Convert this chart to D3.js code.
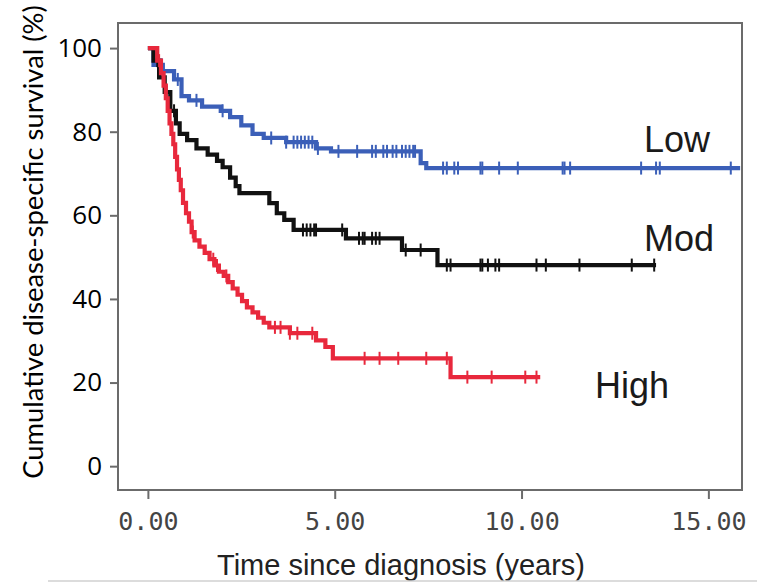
<!DOCTYPE html>
<html>
<head>
<meta charset="utf-8">
<script src="https://cdn.jsdelivr.net/npm/d3@7"></script>
<style>
  html, body { margin: 0; padding: 0; background: #fff; }
  svg { display: block; }
</style>
</head>
<body>
<svg id="chart" width="757" height="583"></svg>
<script>
// ---- Data ----
const groups = ["Low", "Mod", "High"];

const lowTimes = [0, 0.15, 0.4, 0.7, 0.9, 1.1, 1.45, 1.95, 2.2, 2.5, 2.8, 3.1, 3.7, 4.5, 4.9, 7.3, 7.45, 15.85];
const lowSurv  = [100, 96, 94.5, 92.5, 88.5, 87.5, 86, 85, 83.5, 81.5, 79.5, 78.5, 77.5, 76, 75.3, 72.5, 71.3, 71.3];
const lowCensor = [0.37, 0.8, 1.3, 2.0, 3.3, 3.7, 3.9, 4.0, 4.1, 4.2, 4.3, 4.4, 4.55, 5.1, 5.6, 6.0, 6.1, 6.3, 6.4, 6.55, 6.65, 6.8, 6.9, 7.0, 7.1, 7.15, 7.9, 8.0, 8.2, 8.3, 8.9, 8.95, 9.4, 9.9, 11.1, 11.15, 11.3, 13.2, 13.6, 13.7, 15.6];

const modTimes = [0, 0.15, 0.3, 0.45, 0.6, 0.75, 0.85, 1.05, 1.3, 1.6, 1.85, 2.0, 2.2, 2.35, 2.45, 3.25, 3.45, 3.65, 3.9, 5.3, 6.8, 7.75, 13.6];
const modSurv  = [100, 97, 93, 89.5, 85, 82, 79.5, 78, 76, 74.5, 73, 71.5, 69, 67, 65.3, 62.9, 60.5, 58.9, 56.5, 54.5, 51.7, 48.1, 48.1];
const modCensor = [0.25, 0.5, 0.7, 4.15, 4.25, 4.35, 4.45, 4.5, 5.2, 5.65, 5.75, 5.8, 6.0, 6.1, 6.2, 6.9, 7.3, 8.0, 8.1, 8.9, 8.95, 9.1, 9.3, 9.4, 10.4, 10.65, 11.55, 12.95, 13.55];

const highTimes = [0, 0.25, 0.35, 0.42, 0.48, 0.53, 0.58, 0.63, 0.68, 0.73, 0.78, 0.83, 0.88, 0.94, 1.02, 1.1, 1.17, 1.25, 1.38, 1.52, 1.65, 1.78, 1.9, 2.03, 2.15, 2.27, 2.4, 2.52, 2.65, 2.8, 2.95, 3.1, 3.25, 3.8, 4.5, 4.75, 4.95, 8.1, 10.5];
const highSurv  = [100, 97, 94, 91, 88, 85, 82, 79.5, 77, 74, 71, 68.5, 66, 63, 60.5, 58.5, 56, 54, 52.5, 51, 49.5, 48, 46.5, 45.5, 44, 42.5, 41, 39.5, 38, 36.8, 35.5, 34.3, 33.2, 31.8, 30.1, 28.5, 25.8, 21.3, 21.3];
const highCensor = [0.3, 1.2, 1.75, 1.85, 2.1, 3.4, 3.55, 3.8, 4.0, 4.4, 5.8, 6.2, 6.7, 7.45, 8.0, 8.55, 9.2, 10.1, 10.4];

const yTicks = [0, 20, 40, 60, 80, 100];
const xTicks = [0, 5, 10, 15];
const xTitle = "Time since diagnosis (years)";
const yTitle = "Cumulative disease-specific survival (%)";

// ---- Layout ----
const svg = d3.select("#chart");
const frame = { left: 118, right: 742, top: 23, bottom: 490 };

const x = d3.scaleLinear().domain([-0.8, 15.9]).range([frame.left, frame.right]);
const y = d3.scaleLinear().domain([-5.7, 106]).range([frame.bottom, frame.top]);

const series = [
  { name: groups[0], times: lowTimes,  surv: lowSurv,  censor: lowCensor,  color: "#3b5fb8", lx: 644, ly: 152 },
  { name: groups[1], times: modTimes,  surv: modSurv,  censor: modCensor,  color: "#111111", lx: 644, ly: 251 },
  { name: groups[2], times: highTimes, surv: highSurv, censor: highCensor, color: "#e8283c", lx: 595, ly: 398 }
];

// frame
svg.append("rect")
  .attr("x", frame.left).attr("y", frame.top)
  .attr("width", frame.right - frame.left).attr("height", frame.bottom - frame.top)
  .attr("fill", "none").attr("stroke", "#6b6b6b").attr("stroke-width", 2);

// y axis
const yAxis = svg.append("g")
  .attr("transform", `translate(${frame.left},0)`)
  .call(d3.axisLeft(y).tickValues(yTicks).tickSize(8).tickPadding(8).tickFormat(d3.format("d")));
yAxis.select(".domain").remove();
yAxis.selectAll(".tick line").attr("stroke", "#6b6b6b").attr("stroke-width", 2);
yAxis.selectAll(".tick text")
  .attr("font-family", "'Open Sans', sans-serif").attr("font-size", 26).attr("fill", "#000");

// x axis
const xAxis = svg.append("g")
  .attr("transform", `translate(0,${frame.bottom})`)
  .call(d3.axisBottom(x).tickValues(xTicks).tickSize(9).tickPadding(13).tickFormat(d3.format(".2f")));
xAxis.select(".domain").remove();
xAxis.selectAll(".tick line").attr("stroke", "#6b6b6b").attr("stroke-width", 2);
xAxis.selectAll(".tick text")
  .attr("font-family", "'DejaVu Sans Mono', monospace").attr("font-size", 25).attr("fill", "#444");

// axis titles
svg.append("text")
  .attr("x", 401).attr("y", 575)
  .attr("text-anchor", "middle")
  .attr("font-family", "'Liberation Sans', Arial, sans-serif").attr("font-size", 29).attr("fill", "#222")
  .text(xTitle);

const yt = svg.append("text")
  .attr("transform", "translate(43,242) rotate(-90)")
  .attr("text-anchor", "middle")
  .attr("font-family", "Lato, 'Open Sans', sans-serif").attr("font-size", 100).attr("fill", "#000")
  .text(yTitle);
const len = yt.node().getComputedTextLength();
yt.attr("font-size", 100 * 474 / len);

// bottom light rule
svg.append("line").attr("x1", 48).attr("x2", 757).attr("y1", 581).attr("y2", 581)
  .attr("stroke", "#d0d0d0").attr("stroke-width", 1.5);

// curves
const line = d3.line().x(d => x(d[0])).y(d => y(d[1])).curve(d3.curveStepAfter);
series.forEach(s => {
  const pts = s.times.map((t, i) => [t, s.surv[i]]);
  const g = svg.append("g");
  g.append("path").attr("d", line(pts))
    .attr("fill", "none").attr("stroke", s.color).attr("stroke-width", 4.2);
  const valAt = t => {
    let v = s.surv[0];
    for (let i = 0; i < s.times.length; i++) if (s.times[i] <= t) v = s.surv[i];
    return v;
  };
  g.selectAll("line.c").data(s.censor).join("line")
    .attr("x1", d => x(d)).attr("x2", d => x(d))
    .attr("y1", d => y(valAt(d)) - 6.5).attr("y2", d => y(valAt(d)) + 6.5)
    .attr("stroke", s.color).attr("stroke-width", 2);
  svg.append("text").attr("x", s.lx).attr("y", s.ly)
    .attr("font-family", "'Liberation Sans', Arial, sans-serif").attr("font-size", 36).attr("fill", "#1a1a1a")
    .text(s.name);
});
</script>
</body>
</html>
